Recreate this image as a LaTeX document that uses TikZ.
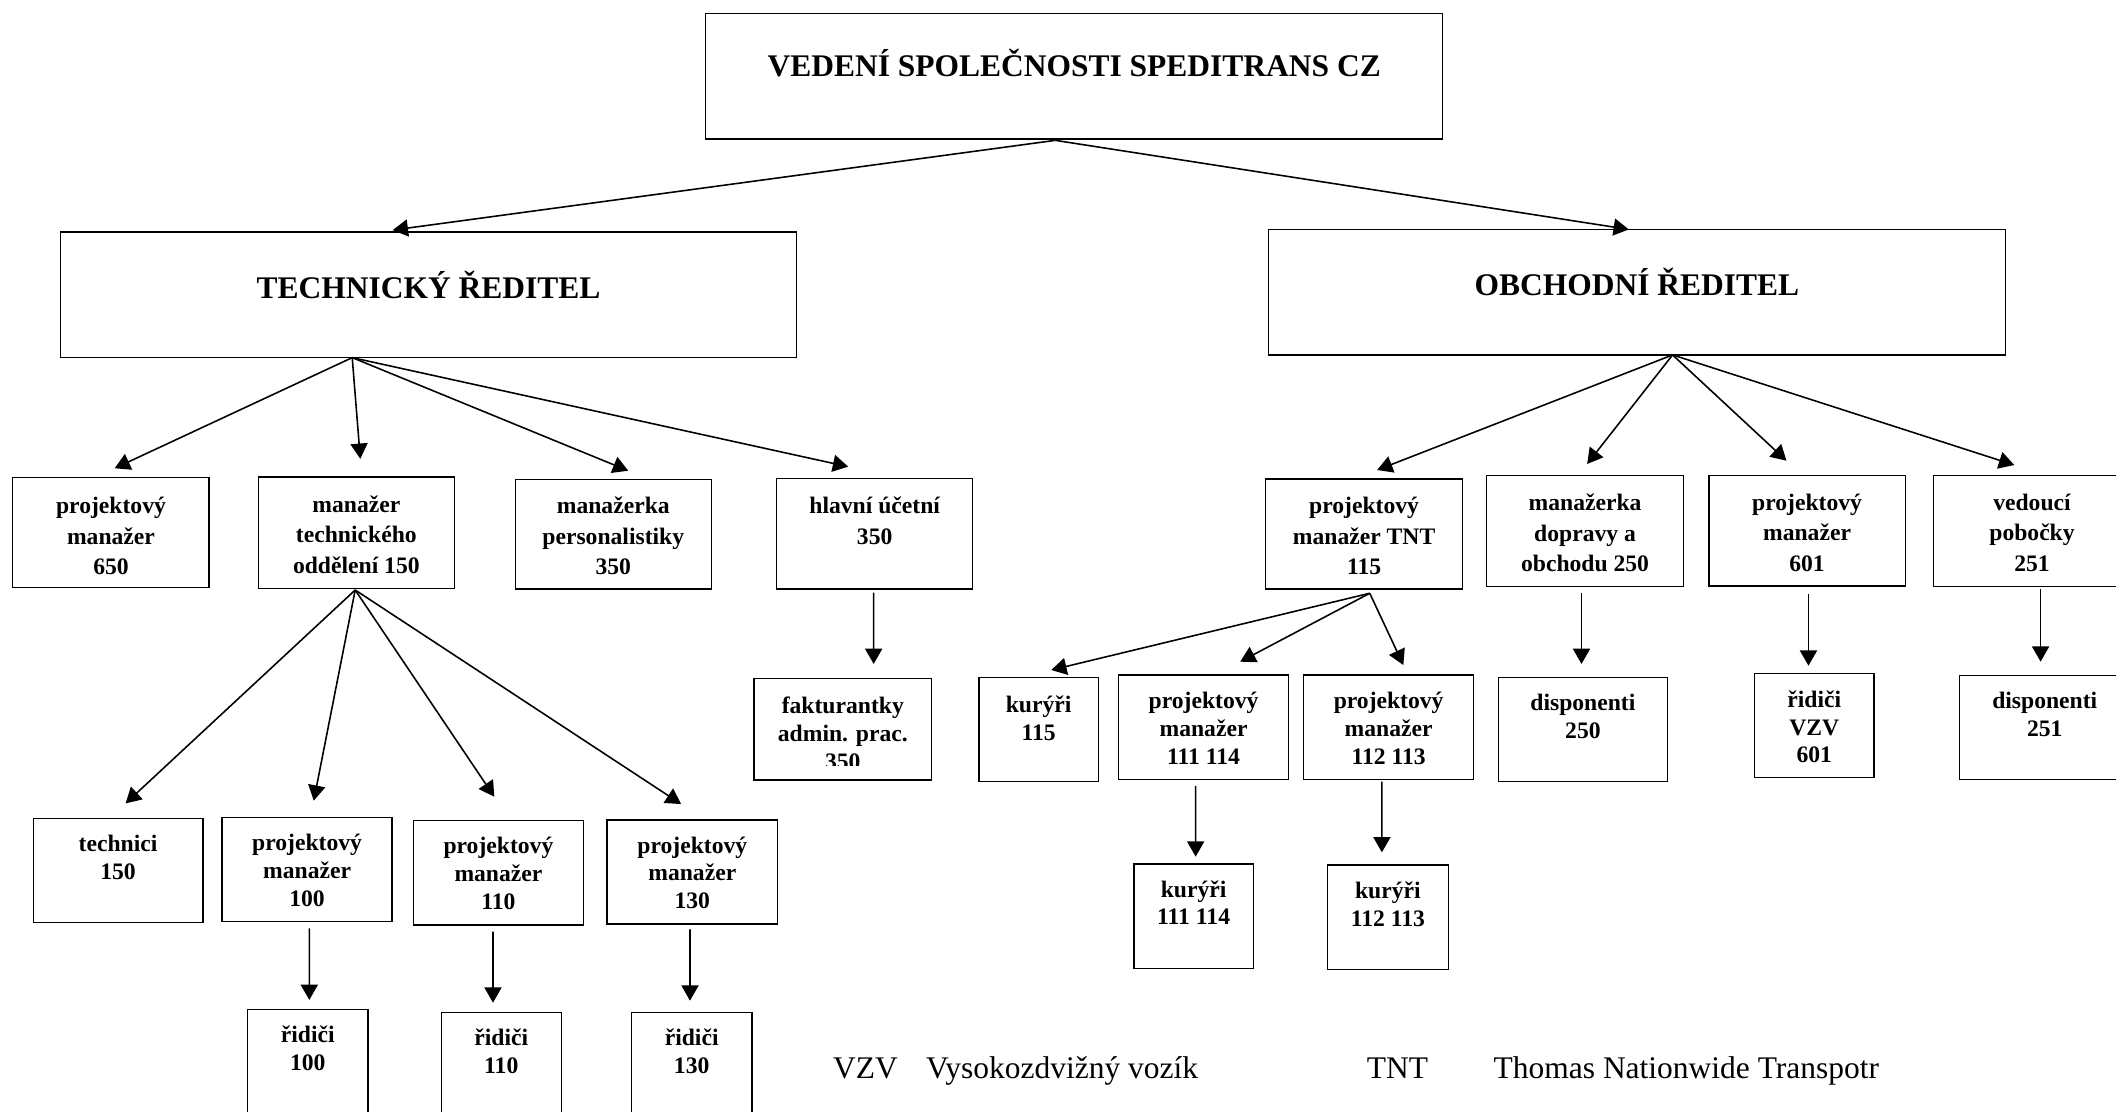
\documentclass[tikz,border=0pt]{standalone}
\usepackage{fontspec}
\setmainfont{Liberation Serif}
\usetikzlibrary{arrows.meta,calc}
\tikzset{
 bx/.style={draw, line width=0.6pt, inner sep=0pt, outer sep=0pt, rectangle},
 tA/.style={font=\fontsize{10.5}{13.6}\selectfont\bfseries, align=center, inner sep=0pt},
 tB/.style={font=\fontsize{10.5}{12.4}\selectfont\bfseries, align=center, inner sep=0pt},
 tH/.style={font=\fontsize{14}{18}\selectfont\bfseries, align=center, inner sep=0pt},
 leg/.style={font=\fontsize{14}{16.8}\selectfont, inner sep=0pt, anchor=base west},
 arr/.style={line width=0.7pt, -{Triangle[length=6.8pt,width=7.6pt]}},
}
% box: name, x1, y1, x2, y2 (reference pixel units)
\newcommand\bx[5]{\node[bx, minimum width={(#4-#2)*0.6pt}, minimum height={(#5-#3)*0.6pt}] (#1) at ({(#2+#4)/2},{(#3+#5)/2}) {};}
% text: style, box name, baseline offset, text, strut height
\newcommand\bt[5]{\node[#1, anchor=north] (#2-t) at ([yshift={#5-#3*0.6pt}]#2.north) {\strut #4};}
\begin{document}
\begin{tikzpicture}[x=0.6pt,y=-0.6pt]
\useasboundingbox (0,0) rectangle (1568,824);
\clip (0,0) rectangle (1568,824);

% ---- level 0/1
\bx{top}{523}{10}{1069}{103}
\bt{tH}{top}{46}{VEDENÍ SPOLEČNOSTI SPEDITRANS CZ}{12.6pt}
\bx{tech}{45}{172}{590}{265}
\bt{tH}{tech}{48.6}{TECHNICKÝ ŘEDITEL}{12.6pt}
\bx{obch}{940}{170}{1486}{263}
\bt{tH}{obch}{49}{OBCHODNÍ ŘEDITEL}{12.6pt}

% ---- level 2 left
\bx{pm650}{9.5}{353.7}{155}{435.2}
\bt{tA}{pm650}{26.7}{projektový\\manažer\\650}{9.52pt}
\bx{mto}{191.4}{353.5}{336.7}{436}
\bt{tA}{mto}{25.7}{manažer\\technického\\oddělení 150}{9.52pt}
\bx{mp}{381.9}{355.2}{527}{436.5}
\bt{tA}{mp}{25}{manažerka\\personalistiky\\350}{9.52pt}
\bx{hu}{575.6}{354.5}{720.7}{436.5}
\bt{tA}{hu}{26}{hlavní účetní\\350}{9.52pt}
\bx{fakt}{558.7}{502.7}{690.4}{578}
\begin{scope}
\clip (558.7,502.7) rectangle (690.4,567);
\bt{tB}{fakt}{26}{fakturantky\\admin. prac.\\350}{8.68pt}
\end{scope}

% ---- level 2 right
\bx{pmTNT}{937.8}{355}{1083.8}{436.5}
\bt{tA}{pmTNT}{25.4}{projektový\\manažer TNT\\115}{9.52pt}
\bx{mdo}{1101.7}{352.5}{1247.4}{434.7}
\bt{tA}{mdo}{25.5}{manažerka\\dopravy a\\obchodu 250}{9.52pt}
\bx{pm601}{1266.3}{352.2}{1411.8}{434.2}
\bt{tA}{pm601}{25.5}{projektový\\manažer\\601}{9.52pt}
\bx{vp}{1432.5}{352.2}{1579}{434.5}
\bt{tA}{vp}{25.5}{vedoucí\\pobočky\\251}{9.52pt}

% ---- level 3 right
\bx{kur115}{725.4}{501.9}{813.8}{579.2}
\bt{tB}{kur115}{25.5}{kurýři\\115}{8.68pt}
\bx{pmA}{828.7}{500.2}{955}{577.5}
\bt{tB}{pmA}{24.5}{projektový\\manažer\\111 114}{8.68pt}
\bx{pmB}{966}{500.2}{1092}{577.5}
\bt{tB}{pmB}{24.5}{projektový\\manažer\\112 113}{8.68pt}
\bx{disp250}{1110.2}{501.9}{1235.7}{579}
\bt{tB}{disp250}{24}{disponenti\\250}{8.68pt}
\bx{rVZV}{1300}{499}{1388.7}{576}
\bt{tB}{rVZV}{24.7}{řidiči\\VZV\\601}{8.68pt}
\bx{disp251}{1452}{500.7}{1578.4}{577.5}
\bt{tB}{disp251}{24}{disponenti\\251}{8.68pt}
\bx{kurA}{840.2}{640.2}{928.8}{717.5}
\bt{tB}{kurA}{24.2}{kurýři\\111 114}{8.68pt}
\bx{kurB}{983.6}{641}{1073.3}{718.3}
\bt{tB}{kurB}{24.2}{kurýři\\112 113}{8.68pt}

% ---- level 3 left
\bx{tech150}{24.6}{606.4}{150.3}{683.7}
\bt{tB}{tech150}{24}{technici\\150}{8.68pt}
\bx{pm100}{164.5}{605.7}{290.6}{683}
\bt{tB}{pm100}{24.2}{projektový\\manažer\\100}{8.68pt}
\bx{pm110}{306.3}{608.1}{432.4}{685.4}
\bt{tB}{pm110}{24.2}{projektový\\manažer\\110}{8.68pt}
\bx{pm130}{449.9}{607.6}{576.1}{684.7}
\bt{tB}{pm130}{24.2}{projektový\\manažer\\130}{8.68pt}
\bx{r100}{183.4}{748}{272.7}{840}
\bt{tB}{r100}{24}{řidiči\\100}{8.68pt}
\bx{r110}{327}{750.2}{415.9}{840}
\bt{tB}{r110}{24}{řidiči\\110}{8.68pt}
\bx{r130}{467.9}{750.4}{557.2}{840}
\bt{tB}{r130}{24}{řidiči\\130}{8.68pt}

% ---- connectors
\draw[arr] ($(top.south west)+(259,1)$) -- ($(tech.north west)+(246,-1.5)$);
\draw[arr] ($(top.south west)+(259,1)$) -- ($(obch.north west)+(267,0)$);

\draw[arr] ($(tech.south west)+(216,0)$) -- ($(pm650.north west)+(75.5,-6.7)$);
\draw[arr] ($(tech.south west)+(216,0)$) -- ($(mto.north west)+(75.6,-13.5)$);
\draw[arr] ($(tech.south west)+(216,0)$) -- ($(mp.north west)+(83.6,-6.4)$);
\draw[arr] ($(tech.south west)+(216,0)$) -- ($(hu.north west)+(52.9,-8.7)$);

\draw[arr] ($(obch.south west)+(299.4,0)$) -- ($(pmTNT.north west)+(82.7,-6.7)$);
\draw[arr] ($(obch.south west)+(299.4,0)$) -- ($(mdo.north west)+(74.4,-8.7)$);
\draw[arr] ($(obch.south west)+(299.4,0)$) -- ($(pm601.north west)+(57.5,-10.8)$);
\draw[arr] ($(obch.south west)+(299.4,0)$) -- ($(vp.north west)+(60.1,-7.6)$);

\draw[arr] ($(hu.south west)+(71.8,2.7)$) -- ($(fakt.north west)+(88.7,-10.7)$);

\draw[arr] ($(mto.south west)+(71.8,1.2)$) -- ($(tech150.north west)+(68.5,-11.1)$);
\draw[arr] ($(mto.south west)+(71.8,1.2)$) -- ($(pm100.north west)+(68,-12.4)$);
\draw[arr] ($(mto.south west)+(71.8,1.2)$) -- ($(pm110.north west)+(60,-17.7)$);
\draw[arr] ($(mto.south west)+(71.8,1.2)$) -- ($(pm130.north west)+(54.8,-11.8)$);

\draw[arr] ($(pm100.south west)+(64.7,5)$) -- ($(r100.north west)+(45.8,-7)$);
\draw[arr] ($(pm110.south west)+(59,5)$) -- ($(r110.north west)+(38.3,-7.2)$);
\draw[arr] ($(pm130.south west)+(61.4,4)$) -- ($(r130.north west)+(43.4,-8.9)$);

\draw[arr] ($(mdo.south west)+(70.2,4.5)$) -- ($(disp250.north west)+(61.7,-9.9)$);
\draw[arr] ($(pm601.south west)+(73.8,6.2)$) -- ($(rVZV.north west)+(40.1,-5.7)$);
\draw[arr] ($(vp.south west)+(79.6,2.2)$) -- ($(disp251.north west)+(60.1,-10.4)$);

\draw[arr] ($(pmTNT.south west)+(77.2,3.1)$) -- ($(kur115.north west)+(53.6,-5.4)$);
\draw[arr] ($(pmTNT.south west)+(77.2,3.1)$) -- ($(pmA.north west)+(90.3,-9.9)$);
\draw[arr] ($(pmTNT.south west)+(77.2,3.1)$) -- ($(pmB.north west)+(73.9,-7.4)$);

\draw[arr] ($(pmA.south west)+(57.3,4.9)$) -- ($(kurA.north west)+(45.8,-5.4)$);
\draw[arr] ($(pmB.south west)+(58,1.7)$) -- ($(kurB.north west)+(40.4,-9.4)$);

% ---- legend
\node[leg] (lVZV) at (617,799) {VZV};
\node[leg] (lVZVt) at (686,799) {Vysokozdvižný vozík};
\node[leg] (lTNT) at (1012.6,799) {TNT};
\node[leg] (lTNTt) at (1106.5,799) {Thomas Nationwide Transpotr};
\end{tikzpicture}
\end{document}
